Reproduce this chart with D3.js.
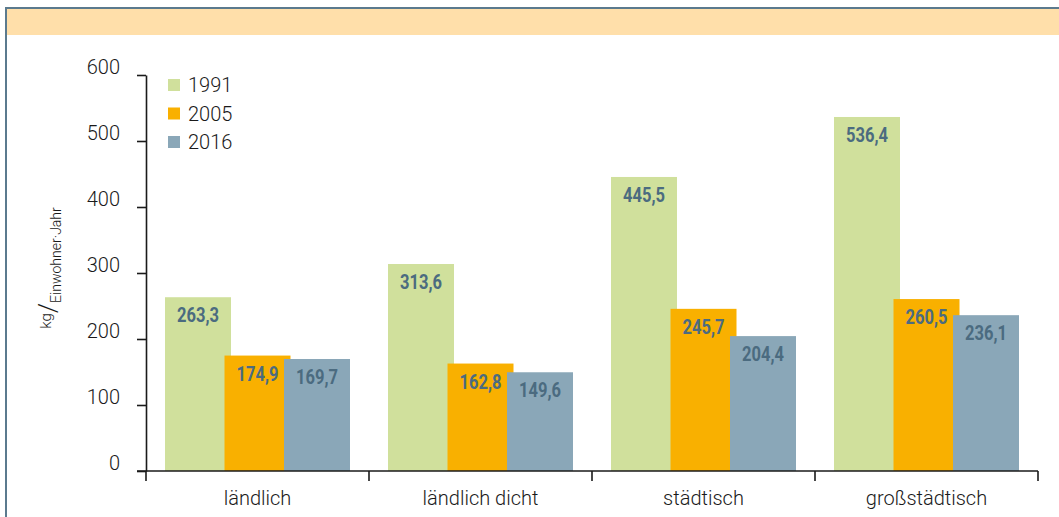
<!DOCTYPE html>
<html>
<head>
<meta charset="utf-8">
<script src="https://cdn.jsdelivr.net/npm/d3@7"></script>
<style>
  body { margin: 0; background: #fff; }
  svg { display: block; }
</style>
</head>
<body>
<script>
// data
const categories = ['ländlich', 'ländlich dicht', 'städtisch', 'großstädtisch'];
const years = ['1991', '2005', '2016'];
const values1991 = [263.3, 313.6, 445.5, 536.4];
const values2005 = [174.9, 162.8, 245.7, 260.5];
const values2016 = [169.7, 149.6, 204.4, 236.1];
const yTicks = [0, 100, 200, 300, 400, 500, 600];

const series = [values1991, values2005, values2016];
const colors = ['#d0e09c', '#f9b000', '#8aa7b8'];

const svg = d3.select('body').append('svg')
  .attr('width', 1059)
  .attr('height', 517);

// frame + header band
svg.append('rect').attr('x', 7).attr('y', 9).attr('width', 1052).attr('height', 26).attr('fill', '#ffdfaa');
svg.append('line').attr('x1', 5).attr('x2', 1059).attr('y1', 8).attr('y2', 8)
  .attr('stroke', '#5b7a8e').attr('stroke-width', 2);
svg.append('line').attr('x1', 6).attr('x2', 6).attr('y1', 7).attr('y2', 517)
  .attr('stroke', '#5b7a8e').attr('stroke-width', 2);

const yScale = d3.scaleLinear().domain([0, 600]).range([471, 75]);
const xScale = d3.scaleBand().domain(categories).range([146, 1038]).padding(0);
const sub = d3.scalePoint().domain(years).range([-59.5, 59.5]);
const barW = 66;

// bars
years.forEach((yr, i) => {
  const g = svg.append('g');
  g.selectAll('rect')
    .data(series[i])
    .enter().append('rect')
    .attr('x', (d, j) => xScale(categories[j]) + xScale.bandwidth() / 2 + sub(yr) - barW / 2)
    .attr('y', d => yScale(d))
    .attr('width', barW)
    .attr('height', d => yScale(0) - yScale(d))
    .attr('fill', colors[i]);
});

// value labels (condensed look via textLength)
years.forEach((yr, i) => {
  svg.append('g').selectAll('text')
    .data(series[i])
    .enter().append('text')
    .attr('x', (d, j) => xScale(categories[j]) + xScale.bandwidth() / 2 + sub(yr))
    .attr('y', d => yScale(d) + 25)
    .attr('text-anchor', 'middle')
    .attr('font-family', "Roboto, 'Liberation Sans', sans-serif")
    .attr('font-weight', 'bold')
    .attr('font-size', 20)
    .attr('textLength', 42)
    .attr('lengthAdjust', 'spacingAndGlyphs')
    .attr('fill', '#4b6b80')
    .text(d => d.toFixed(1).replace('.', ','));
});

// y axis
const yAxis = svg.append('g')
  .attr('transform', 'translate(146,0)')
  .call(d3.axisLeft(yScale).tickValues(yTicks).tickSize(9).tickSizeOuter(0).tickPadding(17));
yAxis.select('.domain').attr('stroke', '#1a1a1a').attr('stroke-width', 1.6);
yAxis.selectAll('.tick line').attr('stroke', '#1a1a1a').attr('stroke-width', 1.6);
yAxis.selectAll('.tick text')
  .attr('dy', '-0.08em')
  .attr('font-family', "Roboto, 'Liberation Sans', sans-serif")
  .attr('font-weight', 300)
  .attr('font-size', 20)
  .attr('fill', '#1a1a1a');

// x axis
const xAxis = svg.append('g').attr('transform', 'translate(0,471)');
xAxis.append('line').attr('x1', 137).attr('x2', 1038).attr('y1', 0).attr('y2', 0)
  .attr('stroke', '#1a1a1a').attr('stroke-width', 1.6);
const bounds = categories.map(c => xScale(c)).concat([xScale.range()[1]]);
xAxis.selectAll('line.bound')
  .data(bounds)
  .enter().append('line')
  .attr('class', 'bound')
  .attr('x1', d => d).attr('x2', d => d)
  .attr('y1', 0).attr('y2', 10)
  .attr('stroke', '#1a1a1a').attr('stroke-width', 1.6);
xAxis.selectAll('text')
  .data(categories)
  .enter().append('text')
  .attr('x', d => xScale(d) + xScale.bandwidth() / 2)
  .attr('y', 34)
  .attr('text-anchor', 'middle')
  .attr('font-family', "Roboto, 'Liberation Sans', sans-serif")
  .attr('font-weight', 300)
  .attr('font-size', 20)
  .attr('fill', '#1a1a1a')
  .text(d => d);

// y axis title
const title = svg.append('text')
  .attr('transform', 'translate(57,268) rotate(-90)')
  .attr('text-anchor', 'middle')
  .attr('font-family', "Roboto, 'Liberation Sans', sans-serif")
  .attr('font-weight', 300)
  .attr('fill', '#1a1a1a');
title.append('tspan').attr('font-size', 15).attr('dy', -6).text('kg');
title.append('tspan').attr('font-size', 26).attr('dy', 6).text('/');
title.append('tspan').attr('font-size', 14).attr('dy', 4).text('Einwohner·Jahr');

// legend
const legend = svg.append('g').attr('transform', 'translate(168,79)');
legend.selectAll('rect')
  .data(years)
  .enter().append('rect')
  .attr('x', 0)
  .attr('y', (d, i) => i * 28.5)
  .attr('width', 12)
  .attr('height', 12)
  .attr('fill', (d, i) => colors[i]);
legend.selectAll('text')
  .data(years)
  .enter().append('text')
  .attr('x', 20)
  .attr('y', (d, i) => i * 28.5 + 13)
  .attr('font-family', "Roboto, 'Liberation Sans', sans-serif")
  .attr('font-weight', 300)
  .attr('font-size', 20)
  .attr('fill', '#1a1a1a')
  .text(d => d);
</script>
</body>
</html>
